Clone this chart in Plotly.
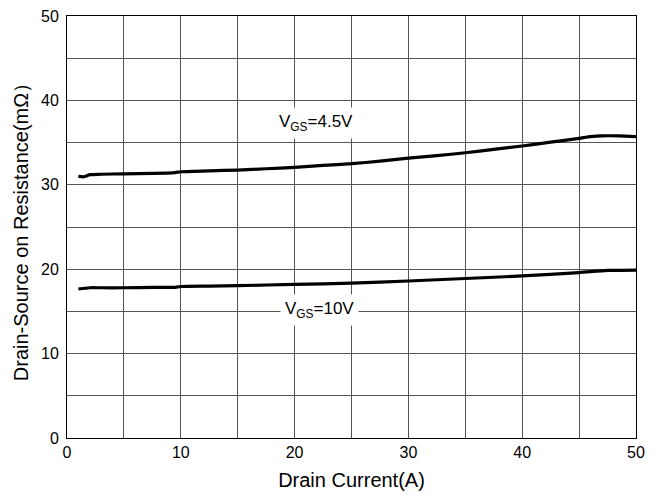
import plotly.graph_objects as go

# Data
x_45 = [1, 1.5, 2, 3, 5, 7.5, 9.5, 10, 12.5, 15, 17.5, 20, 22.5, 25, 27.5, 30, 32.5, 35, 37.5, 40, 42.5, 45, 46, 47, 48.5, 50]
y_45 = [31.0, 30.95, 31.2, 31.25, 31.3, 31.35, 31.45, 31.55, 31.65, 31.75, 31.9, 32.07, 32.3, 32.5, 32.8, 33.15, 33.45, 33.8, 34.2, 34.6, 35.05, 35.5, 35.7, 35.8, 35.8, 35.7]

x_10 = [1, 2, 3, 5, 7.5, 9.5, 10, 12.5, 15, 20, 25, 30, 35, 40, 45, 47.5, 50]
y_10 = [17.65, 17.8, 17.8, 17.8, 17.85, 17.85, 17.95, 18.0, 18.05, 18.2, 18.35, 18.6, 18.9, 19.2, 19.6, 19.85, 19.9]

tick_vals = [0, 5, 10, 15, 20, 25, 30, 35, 40, 45, 50]
tick_text = ["0", "", "10", "", "20", "", "30", "", "40", "", "50"]

label_45 = "V<sub>GS</sub>=4.5V"
label_10 = "V<sub>GS</sub>=10V"
label_45_pos = (21.9, 37.3)
label_10_pos = (22.2, 15.2)

x_title = "Drain Current(A)"
y_title = "Drain-Source on Resistance(mΩ）"

FONT = "Liberation Sans, Arial, sans-serif"

fig = go.Figure()
fig.add_trace(go.Scatter(x=x_45, y=y_45, mode="lines",
                         line=dict(color="black", width=3.2, shape="spline", smoothing=0.6),
                         showlegend=False, hoverinfo="skip"))
fig.add_trace(go.Scatter(x=x_10, y=y_10, mode="lines",
                         line=dict(color="black", width=3.2, shape="spline", smoothing=0.6),
                         showlegend=False, hoverinfo="skip"))

axis_common = dict(
    tickvals=tick_vals, ticktext=tick_text,
    showgrid=True, gridcolor="#555555", gridwidth=1,
    showline=True, linecolor="black", linewidth=1, mirror=True,
    zeroline=False, ticks="", tickfont=dict(size=16, color="black", family=FONT),
    ticklabeloverflow="allow", automargin=False,
)

fig.update_xaxes(range=[0, 50], title=dict(text=x_title, font=dict(size=20, color="black", family=FONT), standoff=12), **axis_common)
fig.update_yaxes(range=[0, 50], ticklabelstandoff=4,
                 title=dict(text=y_title, font=dict(size=20, color="black", family=FONT), standoff=7), **axis_common)

for text, pos in [(label_45, label_45_pos), (label_10, label_10_pos)]:
    fig.add_annotation(x=pos[0], y=pos[1], text=text, showarrow=False,
                       font=dict(size=17, color="black", family=FONT),
                       bgcolor="white", borderpad=4)

# page body has an 8px margin, so the figure is sized/placed to compensate
fig.update_layout(
    width=654, height=489,
    margin=dict(l=59, r=26, t=8, b=59, autoexpand=False),
    paper_bgcolor="white", plot_bgcolor="white",
    font=dict(family=FONT, color="black"),
)

fig.write_html("out.html")
